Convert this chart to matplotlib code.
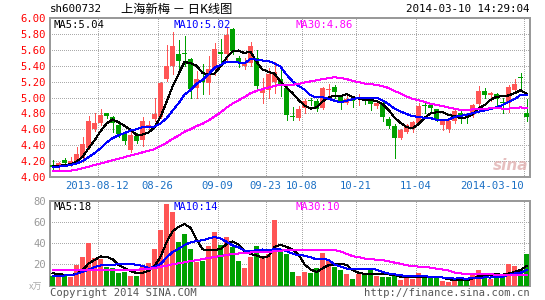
import numpy as np
import matplotlib
matplotlib.use("Agg")
import matplotlib.pyplot as plt

# ---------------- data ----------------
opens = [4.15, 4.12, 4.22, 4.15, 4.19, 4.24, 4.37, 4.61, 4.68, 4.80,
         4.75, 4.65, 4.54, 4.34, 4.52, 4.46, 4.63, 4.73, 4.76, 5.23,
         5.40, 5.55, 5.56, 5.48, 5.12, 5.22, 5.18, 5.36, 5.57, 5.55,
         5.86, 5.50, 5.39, 5.44, 5.50, 5.06, 5.10, 5.19, 5.23, 5.12,
         4.76, 4.74, 4.87, 4.97, 4.96, 4.87, 5.10, 5.13, 5.03, 4.93,
         4.96, 4.975, 5.00, 4.97, 4.89, 4.93, 4.73, 4.64, 4.49, 4.57,
         4.61, 4.68, 4.90, 4.91, 4.85, 4.66, 4.61, 4.70, 4.81, 4.79,
         4.78, 4.92, 5.08, 5.03, 5.05, 4.94, 4.93, 5.09, 5.26, 4.81]
highs = [4.21, 4.19, 4.24, 4.25, 4.38, 4.50, 4.77, 4.80, 4.85, 4.81,
         4.77, 4.68, 4.57, 4.56, 4.55, 4.75, 4.70, 5.00, 5.20, 5.66,
         5.82, 5.72, 5.77, 5.50, 5.33, 5.42, 5.52, 5.68, 5.74, 5.88,
         5.88, 5.52, 5.50, 5.70, 5.60, 5.25, 5.37, 5.45, 5.40, 5.15,
         4.88, 4.89, 4.98, 5.00, 4.98, 5.13, 5.17, 5.16, 5.03, 5.02,
         4.99, 5.04, 5.01, 4.98, 4.95, 4.95, 4.76, 4.67, 4.61, 4.67,
         4.71, 4.93, 4.93, 4.93, 4.86, 4.71, 4.73, 4.85, 4.85, 4.81,
         4.92, 5.14, 5.12, 5.07, 5.06, 4.99, 5.16, 5.23, 5.31, 4.98]
lows = [4.10, 4.09, 4.17, 4.14, 4.17, 4.19, 4.35, 4.58, 4.65, 4.74,
        4.57, 4.50, 4.42, 4.31, 4.43, 4.39, 4.60, 4.70, 4.74, 5.21,
        5.30, 5.33, 5.40, 5.00, 5.00, 5.05, 5.05, 5.28, 5.45, 5.45,
        5.55, 5.38, 5.36, 5.40, 5.10, 4.93, 5.00, 5.06, 5.02, 4.72,
        4.72, 4.72, 4.80, 4.90, 4.83, 4.85, 5.02, 5.00, 4.85, 4.92,
        4.88, 4.90, 4.92, 4.84, 4.87, 4.70, 4.62, 4.24, 4.48, 4.55,
        4.56, 4.67, 4.80, 4.82, 4.70, 4.59, 4.57, 4.68, 4.68, 4.68,
        4.76, 4.88, 5.00, 4.96, 4.87, 4.80, 4.82, 5.07, 5.11, 4.71]
closes = [4.12, 4.17, 4.18, 4.20, 4.29, 4.42, 4.71, 4.68, 4.78, 4.77,
          4.68, 4.54, 4.45, 4.53, 4.45, 4.70, 4.66, 4.79, 5.18, 5.39,
          5.65, 5.46, 5.55, 5.11, 5.23, 5.20, 5.36, 5.61, 5.55, 5.78,
          5.59, 5.43, 5.44, 5.65, 5.15, 5.09, 5.29, 5.32, 5.14, 4.78,
          4.75, 4.86, 4.96, 4.95, 4.86, 5.12, 5.11, 5.07, 4.93, 4.98,
          4.95, 5.01, 4.975, 4.92, 4.93, 4.76, 4.64, 4.49, 4.59, 4.66,
          4.69, 4.89, 4.89, 4.87, 4.73, 4.70, 4.71, 4.83, 4.73, 4.78,
          4.90, 5.08, 5.03, 5.06, 4.98, 4.93, 5.13, 5.17, 5.25, 4.75]
volumes = [9, 9, 9, 8, 19.5, 27, 40, 26, 25, 17.6,
           16.3, 12, 13, 9, 9, 17.6, 21, 35, 53, 77.5,
           70, 41.5, 49, 34.6, 22.6, 23.3, 37.4, 50.7, 38.4, 46,
           36.5, 23.3, 17, 27, 37.7, 27, 30, 62, 35, 29.5,
           12.9, 9, 13, 12, 16.6, 30.8, 23.3, 17.6, 14.8, 11,
           6.2, 11, 12, 14.8, 9, 8.1, 8.5, 10, 5.3, 7.8,
           6.6, 12, 6.9, 7.2, 7.2, 4.4, 3.4, 5, 7.2, 5,
           12, 14.8, 10, 6.6, 10.3, 9, 20.4, 18.5, 14.8, 29.5]

# moving-average values at the start of the window (history lies before it)
ma5_head = [4.14, 4.14, 4.15, 4.16]
ma10_head = [4.13, 4.13, 4.14, 4.15, 4.17, 4.20, 4.25, 4.30, 4.36]
ma30_head = [4.08, 4.08, 4.08, 4.08, 4.09, 4.11, 4.13, 4.15, 4.17, 4.19,
             4.21, 4.23, 4.25, 4.27, 4.29, 4.31, 4.33, 4.35, 4.39, 4.43,
             4.48, 4.52, 4.57, 4.60, 4.64, 4.67, 4.71, 4.76, 4.81]
vol_ma5_head = [11.5, 11, 10, 10]
vol_ma10_head = [9, 9, 9.5, 9.5, 11, 13, 15, 17.5, 19]
vol_ma30_head = [15, 15, 15, 15, 15, 15, 15, 15, 15, 15,
                 15, 15, 15, 15, 15, 15.3, 15.8, 16.5, 17.5, 18.7,
                 20, 21, 22, 23, 24, 25, 26, 27, 28]

date_ticks = [8, 18, 28, 36, 42, 51, 61, 79]
date_labels = ['2013-08-12', '08-26', '09-09', '09-23', '10-08',
               '10-21', '11-04', '2014-03-10']
price_ticks = [4.00, 4.20, 4.40, 4.60, 4.80, 5.00, 5.20, 5.40, 5.60, 5.80, 6.00]
vol_ticks = [20, 40, 60, 80]

stock_code = 'sh600732'
title = '上海新梅 － 日K线图'
timestamp = '2014-03-10 14:29:04'
ma_labels = ['MA5:5.04', 'MA10:5.02', 'MA30:4.86']
vol_ma_labels = ['MA5:18', 'MA10:14', 'MA30:10']


def moving_average(vals, n, head):
    vals = np.asarray(vals, dtype=float)
    out = []
    for i in range(len(vals)):
        if i < len(head):
            out.append(head[i])
        else:
            out.append(vals[i - n + 1:i + 1].mean())
    return np.array(out)


# ---------------- styling ----------------
plt.rcParams['lines.antialiased'] = False
plt.rcParams['patch.antialiased'] = False
MONO = 'DejaVu Sans Mono'
RED = '#ff5555'
GREEN = '#00a000'
FRAME = '#999999'
GRID = '#aaaaaa'
LW = 0.72
W, H = 545, 300


def rect(l, t, r, b):
    return [l / W, 1 - b / H, (r - l) / W, (b - t) / H]


fig = plt.figure(figsize=(W / 100, H / 100), dpi=100)
fig.patch.set_facecolor('white')
ax = fig.add_axes(rect(50, 18, 530, 177))
axv = fig.add_axes(rect(50, 201, 530, 285.5))

n = len(closes)
x = np.arange(n)
o = np.array(opens); c = np.array(closes)
hi = np.array(highs); lo = np.array(lows)
up = c >= o
colors = np.where(up, RED, GREEN)

# candles
ax.vlines(x, lo, hi, colors=colors, linewidth=LW, zorder=3)
body_b = np.minimum(o, c)
body_h = np.maximum(np.abs(c - o), 0.0125)
ax.bar(x, body_h, bottom=body_b, width=0.8, color=colors, linewidth=0, zorder=4)

ax.plot(x, moving_average(closes, 5, ma5_head), color='black', lw=LW, zorder=5)
ax.plot(x, moving_average(closes, 10, ma10_head), color='#0000ff', lw=LW, zorder=5)
ax.plot(x, moving_average(closes, 30, ma30_head), color='#ff00ff', lw=LW, zorder=5)

# volume
axv.bar(x, volumes, width=0.8, color=colors, linewidth=0, zorder=3)
axv.plot(x, moving_average(volumes, 5, vol_ma5_head), color='black', lw=LW, zorder=5)
axv.plot(x, moving_average(volumes, 10, vol_ma10_head), color='#0000ff', lw=LW, zorder=5)
axv.plot(x, moving_average(volumes, 30, vol_ma30_head), color='#ff00ff', lw=LW, zorder=5)

xl = (-2.5 / 6, (530 - 52.5) / 6)
for a in (ax, axv):
    a.set_xlim(*xl)
    for s in a.spines.values():
        s.set_color(FRAME)
        s.set_linewidth(1.3)
    for t in date_ticks:
        a.axvline(t - 0.5, color=GRID, lw=LW, ls=(0, (1, 2)), zorder=1)

ax.set_ylim(4.0, 6.0)
axv.set_ylim(0, 80)
for v in price_ticks[1:-1]:
    ax.axhline(v, color=GRID, lw=LW, ls=(0, (1, 2)), zorder=1)
for v in vol_ticks[:-1]:
    axv.axhline(v, color=GRID, lw=LW, ls=(0, (1, 2)), zorder=1)

ax.set_yticks(price_ticks)
ax.set_yticklabels(['%.2f' % v for v in price_ticks], color='#ff0000',
                   fontfamily=MONO, fontsize=7.6)
ax.set_xticks([t - 0.5 for t in date_ticks])
ax.set_xticklabels(date_labels, color='#1a6fc4', fontfamily=MONO, fontsize=7.6)
ax.tick_params(length=0, pad=3)
ax.get_xticklabels()[-1].set_ha('right')

axv.set_yticks(vol_ticks)
axv.set_yticklabels([str(v) for v in vol_ticks], color='#999999',
                    fontfamily=MONO, fontsize=7.6)
axv.set_xticks([])
axv.tick_params(length=0, pad=3)


def ftext(px, py, s, **kw):
    fig.text(px / W, 1 - py / H, s, va='center', **kw)


ftext(50, 9, stock_code, fontfamily=MONO, fontsize=7.8, color='black')
ftext(121, 9, title, fontfamily=['Noto Sans CJK SC', 'DejaVu Sans'],
      fontsize=8.8, color='black')
ftext(530, 9, timestamp, fontfamily=MONO, fontsize=7.8, color='black', ha='right')

ma_cols = ['black', '#0000ff', '#ff00ff']
ma_x = [54, 174, 295]
for s, col, px in zip(ma_labels, ma_cols, ma_x):
    ftext(px, 25.5, s, fontfamily=MONO, fontsize=7.6, color=col)
for s, col, px in zip(vol_ma_labels, ma_cols, ma_x):
    ftext(px, 207, s, fontfamily=MONO, fontsize=7.6, color=col)

ftext(29, 287, 'x万', fontfamily=['Noto Sans CJK SC', 'DejaVu Sans'],
      fontsize=6.5, color='#aaaaaa')
ftext(50, 293, 'Copyright 2014 SINA.COM', fontfamily=MONO, fontsize=7.6, color='#555555')
ftext(530, 293, 'http://finance.sina.com.cn', fontfamily=MONO, fontsize=7.6,
      color='#555555', ha='right')
ftext(511, 166, 'sina', fontfamily='DejaVu Sans', fontsize=11, color='#e0b0b0',
      ha='center', style='italic', weight='bold', alpha=0.8)

fig.savefig('out.png', dpi=100, facecolor='white')
